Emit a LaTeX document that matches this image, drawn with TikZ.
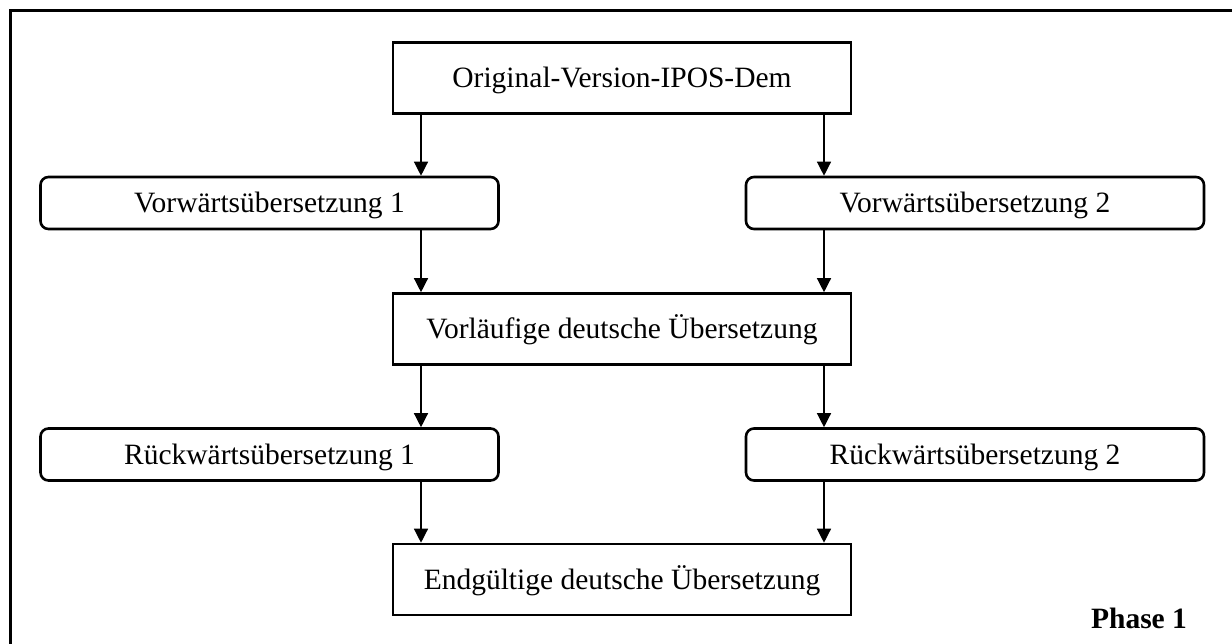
\documentclass[tikz,border=0pt]{standalone}
\usepackage{fontspec}
\setmainfont{Liberation Serif}
\usetikzlibrary{arrows.meta,calc}
\begin{document}
\begin{tikzpicture}[x=1pt,y=-1pt,
  base/.style={draw,line width=2.6pt,inner sep=0pt,font=\fontsize{29.5}{33}\selectfont,text height=22.5pt,text depth=3pt},
  sqbox/.style={base,minimum width=458pt,minimum height=71pt},
  rbox/.style={base,rounded corners=8pt,minimum width=458pt,minimum height=52pt},
  arr/.style={line width=1.3pt,-{Triangle[length=14pt,width=14pt]}}]
\useasboundingbox (0,0) rectangle (1232,643);
\begin{scope}
\clip (0,0) rectangle (1232,643);
\draw[line width=3pt] (10.5,660) -- (10.5,10.5) -- (1250,10.5);
\end{scope}
\node[sqbox] (orig) at (622,78) {Original-Version-IPOS-Dem};
\node[rbox] (v1) at (269.5,203) {Vorwärtsübersetzung 1};
\node[rbox] (v2) at (975,203) {Vorwärtsübersetzung 2};
\node[sqbox] (vorl) at (622,329) {Vorläufige deutsche Übersetzung};
\node[rbox] (r1) at (269.5,454.5) {Rückwärtsübersetzung 1};
\node[rbox] (r2) at (975,454.5) {Rückwärtsübersetzung 2};
\node[sqbox] (endg) at (622,579.5) {Endgültige deutsche Übersetzung};
\node[font=\fontsize{29.5}{33}\selectfont\bfseries,anchor=base] (phase) at (1139,628) {Phase 1};
\coordinate (lx) at (421,0);
\coordinate (rx) at (824,0);
\draw[arr] (orig.south -| lx) -- (v1.north -| lx);
\draw[arr] (orig.south -| rx) -- (v2.north -| rx);
\draw[arr] (v1.south -| lx) -- (vorl.north -| lx);
\draw[arr] (v2.south -| rx) -- (vorl.north -| rx);
\draw[arr] (vorl.south -| lx) -- (r1.north -| lx);
\draw[arr] (vorl.south -| rx) -- (r2.north -| rx);
\draw[arr] (r1.south -| lx) -- (endg.north -| lx);
\draw[arr] (r2.south -| rx) -- (endg.north -| rx);
\end{tikzpicture}
\end{document}
